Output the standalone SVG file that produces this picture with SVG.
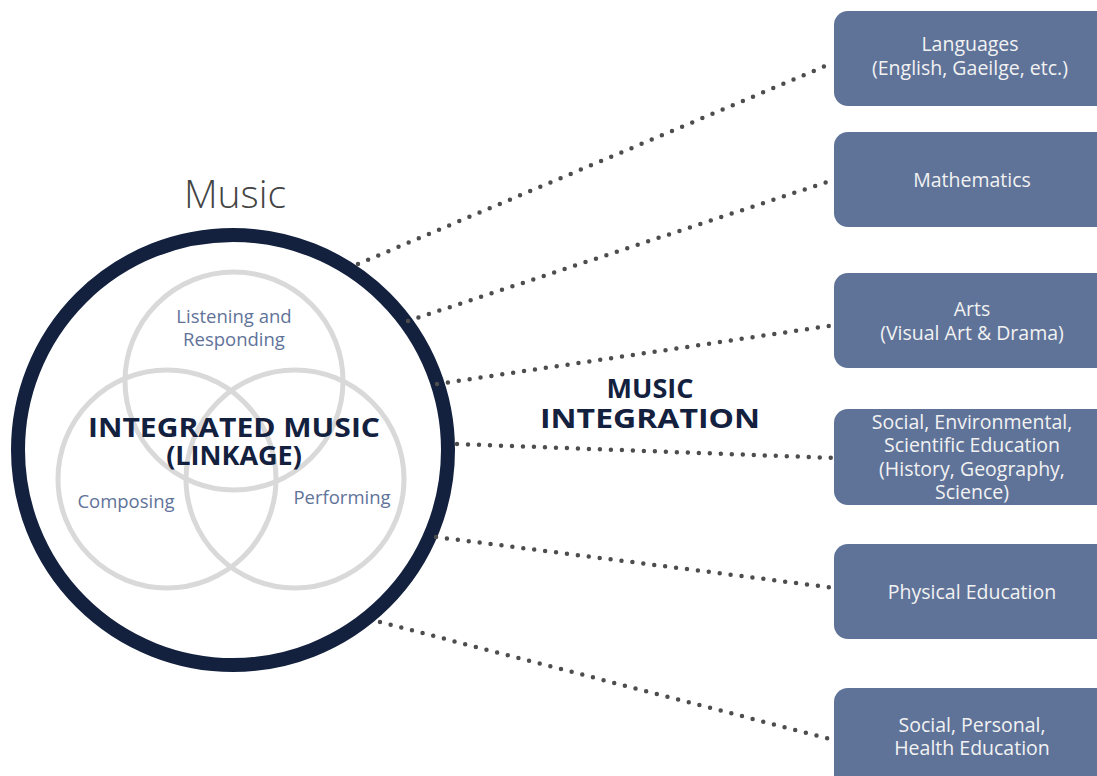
<svg xmlns="http://www.w3.org/2000/svg" width="1097" height="776" viewBox="0 0 1097 776">
<style>
.box{fill:#5f7399}
.bt{font-family:"Open Sans","Noto Sans",sans-serif;font-size:19.5px;fill:#f2f2f2;text-anchor:middle}
.venn{fill:none;stroke:#d9d9d9;stroke-width:5}
.vt{font-family:"Open Sans","Noto Sans",sans-serif;font-size:18.5px;fill:#5f7399;text-anchor:middle}
.title{font-family:"Open Sans","Noto Sans",sans-serif;font-weight:bold;fill:#13213f;text-anchor:middle}
.con{stroke:#4d4d4d;stroke-width:4.5;stroke-linecap:round;stroke-dasharray:0 11;fill:none}
</style>
<rect width="1097" height="776" fill="#ffffff"/>
<g id="music-circle">
<text x="235" y="208" font-family="'Open Sans',sans-serif" font-size="39" font-weight="300" fill="#444444" text-anchor="middle">Music</text>
<circle cx="233" cy="450" r="215" fill="none" stroke="#13213f" stroke-width="14"/>
</g>
<g id="venn">
<circle class="venn" cx="234" cy="381" r="109"/>
<circle class="venn" cx="167" cy="479" r="109"/>
<circle class="venn" cx="295" cy="479" r="109"/>
<text class="vt" x="234" y="323">Listening and</text>
<text class="vt" x="234" y="346">Responding</text>
<text class="vt" x="126" y="508">Composing</text>
<text class="vt" x="342" y="504">Performing</text>
<text class="title" x="234" y="437" font-size="27" textLength="292" lengthAdjust="spacingAndGlyphs">INTEGRATED MUSIC</text>
<text class="title" x="234" y="465" font-size="27">(LINKAGE)</text>
</g>
<g id="music-integration-label">
<text class="title" x="650" y="398" font-size="27">MUSIC</text>
<text class="title" x="650" y="428" font-size="27" textLength="220" lengthAdjust="spacingAndGlyphs">INTEGRATION</text>
</g>
<g id="connectors">
<line class="con" x1="358" y1="264" x2="830" y2="64"/>
<line class="con" x1="408" y1="321" x2="833" y2="180"/>
<line class="con" x1="437" y1="384" x2="835" y2="325"/>
<line class="con" x1="457" y1="444" x2="835" y2="458"/>
<line class="con" x1="436" y1="537" x2="835" y2="588"/>
<line class="con" x1="380" y1="622" x2="830" y2="739"/>
</g>
<g id="languages">
<rect class="box" x="834" y="11" width="285" height="95" rx="14"/>
<text class="bt" x="970" y="51">Languages</text>
<text class="bt" x="970" y="75">(English, Gaeilge, etc.)</text>
</g>
<g id="mathematics">
<rect class="box" x="834" y="132" width="285" height="95" rx="14"/>
<text class="bt" x="972" y="187">Mathematics</text>
</g>
<g id="arts">
<rect class="box" x="834" y="273" width="285" height="95" rx="14"/>
<text class="bt" x="972" y="316">Arts</text>
<text class="bt" x="972" y="340">(Visual Art &amp; Drama)</text>
</g>
<g id="sese">
<rect class="box" x="834" y="409" width="285" height="96" rx="14"/>
<text class="bt" x="972" y="429">Social, Environmental,</text>
<text class="bt" x="972" y="452">Scientific Education</text>
<text class="bt" x="972" y="476">(History, Geography,</text>
<text class="bt" x="972" y="499">Science)</text>
</g>
<g id="physical-education">
<rect class="box" x="834" y="544" width="285" height="95" rx="14"/>
<text class="bt" x="972" y="599">Physical Education</text>
</g>
<g id="sphe">
<rect class="box" x="834" y="688" width="285" height="120" rx="14"/>
<text class="bt" x="972" y="732">Social, Personal,</text>
<text class="bt" x="972" y="755">Health Education</text>
</g>
</svg>
